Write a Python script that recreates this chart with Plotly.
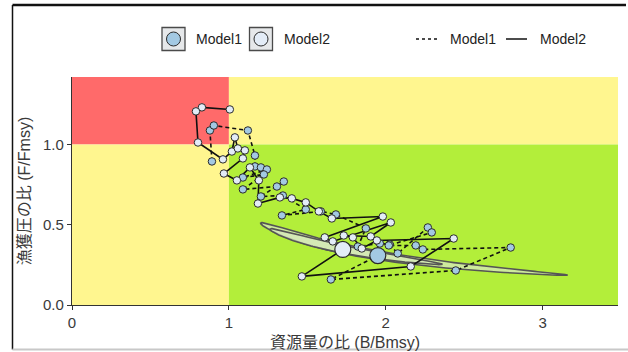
import numpy as np
import plotly.graph_objects as go

# ---- data: Kobe-plot trajectories (B/Bmsy, F/Fmsy); last entry = terminal year
m1_b = [0.892, 0.879, 0.904, 1.121, 1.166, 1.166, 1.204, 1.242, 1.089, 1.223,
        1.089, 1.306, 1.350, 1.204, 1.344, 1.490, 1.338, 1.586, 1.682, 1.873,
        1.822, 1.962, 2.025, 2.076, 2.268, 2.293, 2.019, 2.191, 2.236, 2.796,
        2.446, 1.650, 1.949]
m1_f = [0.894, 1.087, 1.118, 1.087, 0.931, 0.863, 0.857, 0.844, 0.794, 0.813,
        0.720, 0.738, 0.769, 0.676, 0.682, 0.595, 0.558, 0.583, 0.564, 0.477,
        0.364, 0.383, 0.377, 0.321, 0.483, 0.452, 0.371, 0.371, 0.346, 0.358,
        0.215, 0.159, 0.308]

m2_b = [1.006, 0.828, 0.790, 0.803, 0.962, 1.019, 1.038, 1.057, 1.102, 1.089,
        0.968, 1.051, 1.134, 1.191, 1.185, 1.325, 1.401, 1.490, 1.573, 1.656,
        1.981, 1.611, 1.662, 2.032, 1.904, 1.732, 1.790, 1.847, 1.943, 2.433,
        2.159, 1.465, 1.726]
m2_f = [1.218, 1.231, 1.206, 1.012, 0.907, 0.956, 1.044, 0.975, 0.963, 0.913,
        0.819, 0.776, 0.857, 0.776, 0.632, 0.670, 0.664, 0.639, 0.583, 0.539,
        0.551, 0.421, 0.396, 0.514, 0.427, 0.433, 0.421, 0.352, 0.402, 0.414,
        0.240, 0.178, 0.346]

# confidence ellipses (log space): semi-major, semi-minor, angle in degrees
ell_a = [0.70, 0.444]
ell_b = [0.06, 0.05]
ell_angle = [-46.6, -45.5]

model_names = ["Model1", "Model2"]
x_ticks = [0, 1, 2, 3]
y_ticks = [0.0, 0.5, 1.0]
y_tick_text = ["0.0", "0.5", "1.0"]

X_MAX, Y_MAX = 3.48, 1.42

FILL1 = "#a3c9e3"
FILL2 = "#e3ecf7"
EDGE = "#2b2b2b"
FONT = "Liberation Sans, Arial, Noto Sans CJK JP, sans-serif"

W, H = 628, 352
ML, MR, MT, MB = 72, 10, 77, 47
PW, PH = W - ML - MR, H - MT - MB


def px(x, y):
    """page pixel -> paper coordinates"""
    return (x - ML) / PW, (H - MB - y) / PH


fig = go.Figure()

# ---- status zones
zones = [
    (0, 1, 1, Y_MAX, "#FF6A6A"),
    (0, 1, 0, 1, "#FFF68F"),
    (1, X_MAX, 1, Y_MAX, "#FFF68F"),
    (1, X_MAX, 0, 1, "#B3EE3A"),
]
shapes = []
for x0, x1, y0, y1, c in zones:
    shapes.append(dict(type="rect", xref="x", yref="y", x0=x0, x1=x1, y0=y0, y1=y1,
                       fillcolor=c, line=dict(width=0), layer="below"))

# ---- confidence ellipses around terminal-year estimates
t = np.linspace(0, 2 * np.pi, 240)
for cb, cf, a, b, ang in [(m1_b[-1], m1_f[-1], ell_a[0], ell_b[0], ell_angle[0]),
                          (m2_b[-1], m2_f[-1], ell_a[1], ell_b[1], ell_angle[1])]:
    th = np.deg2rad(ang)
    u, v = a * np.cos(t), b * np.sin(t)
    lx = np.log(cb) + u * np.cos(th) - v * np.sin(th)
    ly = np.log(cf) + u * np.sin(th) + v * np.cos(th)
    fig.add_trace(go.Scatter(x=np.exp(lx), y=np.exp(ly), mode="lines", fill="toself",
                             fillcolor="rgba(214,232,190,0.75)",
                             line=dict(color="#555555", width=1.6),
                             hoverinfo="skip", showlegend=False))

# ---- trajectories
for bs, fs, dash in [(m1_b, m1_f, "4px,3px"), (m2_b, m2_f, "solid")]:
    fig.add_trace(go.Scatter(x=bs, y=fs, mode="lines",
                             line=dict(color="#111111", width=1.6, dash=dash),
                             showlegend=False, hoverinfo="skip"))
for bs, fs, fill in [(m1_b, m1_f, FILL1), (m2_b, m2_f, FILL2)]:
    fig.add_trace(go.Scatter(x=bs[:-1], y=fs[:-1], mode="markers",
                             marker=dict(size=7.5, color=fill, line=dict(color=EDGE, width=1)),
                             showlegend=False))
for bs, fs, fill in [(m1_b, m1_f, FILL1), (m2_b, m2_f, FILL2)]:
    fig.add_trace(go.Scatter(x=[bs[-1]], y=[fs[-1]], mode="markers",
                             marker=dict(size=16, color=fill, line=dict(color=EDGE, width=1.2)),
                             showlegend=False))

# ---- legend drawn in paper space
annotations = []
for i, (name, fill) in enumerate(zip(model_names, [FILL1, FILL2])):
    bx = 162 + i * 87.5
    x0, y0 = px(bx, 50.5)
    x1, y1 = px(bx + 23, 27.5)
    shapes.append(dict(type="rect", xref="paper", yref="paper", x0=x0, x1=x1, y0=y0, y1=y1,
                       fillcolor="#e6e8ea", line=dict(color="#4a4a4a", width=1.3)))
    cx0, cy0 = px(bx + 4.5, 46)
    cx1, cy1 = px(bx + 18.5, 32)
    shapes.append(dict(type="circle", xref="paper", yref="paper", x0=cx0, x1=cx1, y0=cy0, y1=cy1,
                       fillcolor=fill, line=dict(color=EDGE, width=1)))
    tx, ty = px(bx + 32, 39)
    annotations.append(dict(xref="paper", yref="paper", x=tx, y=ty, text=name, showarrow=False,
                            xanchor="left", yanchor="middle", font=dict(size=14, color="#222")))

for i, (name, dash) in enumerate(zip(model_names, ["dot", "solid"])):
    lx0 = 416 + i * 90
    a0, yy = px(lx0, 39)
    a1, _ = px(lx0 + 21, 39)
    shapes.append(dict(type="line", xref="paper", yref="paper", x0=a0, x1=a1, y0=yy, y1=yy,
                       line=dict(color="#111", width=1.5, dash=dash)))
    tx, ty = px(lx0 + 32, 39)
    annotations.append(dict(xref="paper", yref="paper", x=tx, y=ty, text=name, showarrow=False,
                            xanchor="left", yanchor="middle", font=dict(size=14, color="#222")))

# ---- outer frame
fx0, fy0 = px(12.5, 5)
fx1, fy1 = px(626, 349.5)
shapes.append(dict(type="line", xref="paper", yref="paper", x0=fx0, x1=fx1, y0=fy0, y1=fy0,
                   line=dict(color="#111", width=2.5)))
shapes.append(dict(type="line", xref="paper", yref="paper", x0=fx0, x1=fx0, y0=fy0, y1=fy1,
                   line=dict(color="#111", width=1.5)))
shapes.append(dict(type="line", xref="paper", yref="paper", x0=fx0, x1=px(628, 0)[0], y0=fy1, y1=fy1,
                   line=dict(color="#c8c8c8", width=2)))

fig.update_layout(
    width=W, height=H,
    margin=dict(l=ML, r=MR, t=MT, b=MB, autoexpand=False),
    paper_bgcolor="white", plot_bgcolor="white",
    font=dict(family=FONT, color="#333"),
    shapes=shapes, annotations=annotations,
    showlegend=False,
    xaxis=dict(range=[0, X_MAX], tickvals=x_ticks, ticks="outside", ticklen=4,
               tickcolor="#333", tickwidth=1, showline=True, linecolor="#333", linewidth=1.2,
               showgrid=False, zeroline=False, automargin=False,
               tickfont=dict(size=15, color="#3a3a3a"),
               title=dict(text="資源量の比 (B/Bmsy)", font=dict(size=16, color="#3a3a3a"), standoff=6)),
    yaxis=dict(range=[0, Y_MAX], tickvals=y_ticks, ticktext=y_tick_text, ticks="outside",
               ticklen=4, tickcolor="#333", tickwidth=1, showline=True, linecolor="#333",
               linewidth=1.2, showgrid=False, zeroline=False, automargin=False,
               tickfont=dict(size=15, color="#3a3a3a"),
               title=dict(text="漁獲圧の比 (F/Fmsy)", font=dict(size=16, color="#3a3a3a"), standoff=8)),
)

fig.write_html("out.html")
